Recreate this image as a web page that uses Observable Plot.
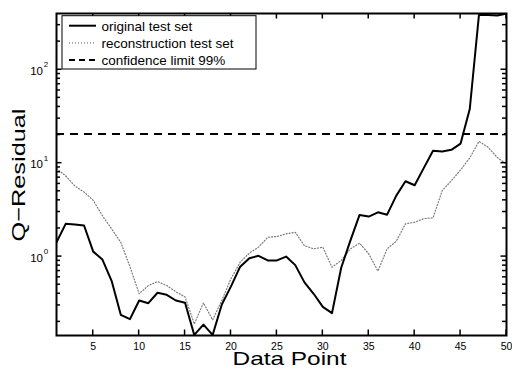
<!DOCTYPE html>
<html><head><meta charset="utf-8">
<script src="https://cdn.jsdelivr.net/npm/d3@7"></script>
<script src="https://cdn.jsdelivr.net/npm/@observablehq/plot@0.6"></script>
<style>
html,body{margin:0;padding:0;background:#fff;}
#chart{width:512px;height:376px;overflow:hidden;}
</style></head><body><div id="chart"></div>
<script>
const dataPoint = [1,2,3,4,5,6,7,8,9,10,11,12,13,14,15,16,17,18,19,20,21,22,23,24,25,26,27,28,29,30,31,32,33,34,35,36,37,38,39,40,41,42,43,44,45,46,47,48,49,50];
const originalTestSet = [1.42,2.24,2.2,2.15,1.13,0.93,0.55,0.238,0.214,0.339,0.317,0.41,0.39,0.339,0.32,0.145,0.187,0.145,0.307,0.48,0.78,0.96,1.02,0.91,0.91,1.0,0.81,0.53,0.40,0.29,0.248,0.76,1.48,2.79,2.68,2.98,2.81,4.49,6.4,5.8,8.9,13.6,13.3,13.9,16.2,38,387,386,380,400];
const reconstructionTestSet = [8.8,7.3,5.7,4.9,4.0,2.74,1.98,1.42,0.78,0.40,0.49,0.54,0.49,0.42,0.37,0.19,0.32,0.21,0.34,0.58,0.87,1.09,1.26,1.61,1.64,1.75,1.82,1.31,1.21,1.26,0.77,0.91,1.21,1.39,1.07,0.70,1.21,1.46,2.24,2.33,2.55,2.6,5.08,6.5,8.46,11.4,17.1,14.8,11.5,9.8];
const confidenceLimit = 20.5;
const seriesNames = ["original test set", "reconstruction test set", "confidence limit 99%"];
const xTicks = [5,10,15,20,25,30,35,40,45,50];
const yMajorTicks = [1,10,100];
const yTickBase = ["10","10","10"];
const yTickExponent = ["0","1","2"];
const yMinorTicks = [0.2,0.3,0.4,0.5,0.6,0.7,0.8,0.9,2,3,4,5,6,7,8,9,20,30,40,50,60,70,80,90,200,300];
const xLabel = "Data Point";
const yLabel = "Q\u2212Residual";

const orig = dataPoint.map((x, i) => ({x, y: originalTestSet[i]}));
const recon = dataPoint.map((x, i) => ({x, y: reconstructionTestSet[i]}));
const ymaj = yMajorTicks.map((v, i) => ({v, base: yTickBase[i], exp: yTickExponent[i]}));

const W = 512, H = 376, mL = 56, mR = 6, mT = 13, mB = 41;
const font = "'Liberation Sans', Arial, Helvetica, sans-serif";

const chart = Plot.plot({
  width: W, height: H,
  marginLeft: mL, marginRight: mR, marginTop: mT, marginBottom: mB,
  style: {fontFamily: font, background: "#fff", color: "#000"},
  x: {domain: [1, 50], axis: null},
  y: {type: "log", domain: [0.143, 400], axis: null},
  marks: [
    Plot.ruleY([confidenceLimit], {stroke: "#000", strokeWidth: 2, strokeDasharray: "8,6"}),
    Plot.line(recon, {x: "x", y: "y", stroke: "#7a7a7a", strokeWidth: 1.2, strokeDasharray: "1,2", clip: true}),
    Plot.line(orig, {x: "x", y: "y", stroke: "#000", strokeWidth: 2, clip: true}),
    // tick labels
    Plot.text(xTicks, {x: d => d, text: d => String(d), frameAnchor: "bottom", lineAnchor: "top", dy: 7.5, fontSize: 10.5, fill: "#000"}),
    Plot.text(ymaj, {y: "v", text: "base", frameAnchor: "left", dx: -13.5, dy: 1.5, textAnchor: "end", fontSize: 11.5, fill: "#000"}),
    Plot.text(ymaj, {y: "v", text: "exp", frameAnchor: "left", dx: -12.8, dy: -5, textAnchor: "start", fontSize: 8, fill: "#000"}),
    Plot.frame({stroke: "#000", strokeWidth: 2})
  ]
});
document.getElementById("chart").appendChild(chart);

// inward ticks on all four sides, positioned with Plot's own scales
const sx = chart.scale("x"), sy = chart.scale("y");
const svg = d3.select(chart);
const x0 = mL, x1 = W - mR, y0 = mT, y1 = H - mB;
const tg = svg.append("g").attr("stroke", "#000").attr("stroke-width", 1.5);
xTicks.forEach(v => {
  const px = sx.apply(v);
  tg.append("line").attr("x1", px).attr("x2", px).attr("y1", y1).attr("y2", y1 - 5.5);
  tg.append("line").attr("x1", px).attr("x2", px).attr("y1", y0).attr("y2", y0 + 5.5);
});
[[yMajorTicks, 5.5], [yMinorTicks, 4]].forEach(([arr, len]) => arr.forEach(v => {
  const py = sy.apply(v);
  tg.append("line").attr("x1", x0).attr("x2", x0 + len).attr("y1", py).attr("y2", py);
  tg.append("line").attr("x1", x1).attr("x2", x1 - len).attr("y1", py).attr("y2", py);
}));

// axis titles and legend
const g = svg.append("g").attr("font-family", font).attr("fill", "#000");
g.append("text").attr("x", 289.5).attr("y", 364.5).attr("text-anchor", "middle")
  .attr("font-size", 19).attr("textLength", 114).attr("lengthAdjust", "spacingAndGlyphs").text(xLabel);
g.append("text").attr("transform", "translate(25,175) rotate(-90)").attr("text-anchor", "middle")
  .attr("font-size", 19).attr("textLength", 133).attr("lengthAdjust", "spacingAndGlyphs").text(yLabel);

const lg = svg.append("g").attr("font-family", font).attr("text-anchor", "start");
lg.append("rect").attr("x", 62).attr("y", 15.7).attr("width", 194).attr("height", 53.3)
  .attr("fill", "#fff").attr("stroke", "#000").attr("stroke-width", 1);
const legendStyles = [
  {stroke: "#000", width: 2, dash: null},
  {stroke: "#7a7a7a", width: 1.2, dash: "1,2"},
  {stroke: "#000", width: 2, dash: "6,4"}
];
seriesNames.forEach((name, i) => {
  const yy = 25.7 + i * 17.2;
  const s = legendStyles[i];
  const ln = lg.append("line").attr("x1", 69).attr("x2", 96).attr("y1", yy).attr("y2", yy)
    .attr("stroke", s.stroke).attr("stroke-width", s.width);
  if (s.dash) ln.attr("stroke-dasharray", s.dash);
  lg.append("text").attr("x", 101.5).attr("y", yy + 5).attr("font-size", 13.5)
    .attr("text-anchor", "start").attr("fill", "#000").text(name);
});
</script>
</body></html>
